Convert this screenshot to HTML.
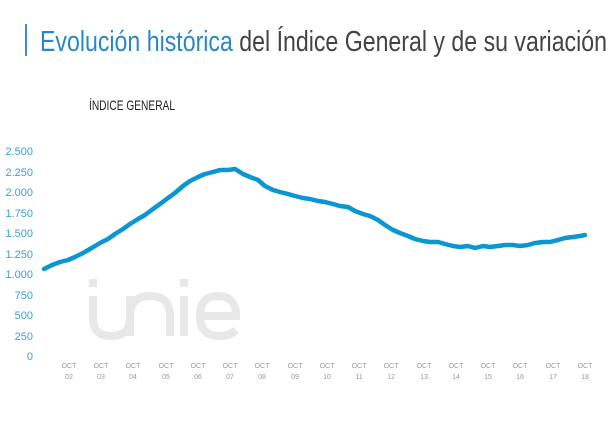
<!DOCTYPE html>
<html><head><meta charset="utf-8"><style>
html,body{margin:0;padding:0;background:#fff;width:611px;height:431px;overflow:hidden}
svg{display:block}
</style></head><body>
<svg width="611" height="431" xmlns="http://www.w3.org/2000/svg" font-family="Liberation Sans, sans-serif">
<rect x="25" y="24" width="2" height="32" fill="#3a8fd0"/>
<text x="40" y="51" font-size="29" textLength="567" lengthAdjust="spacingAndGlyphs"><tspan fill="#2a87c8">Evolución histórica</tspan><tspan fill="#444"> del Índice General y de su variación</tspan></text>
<text x="89" y="110" font-size="14" fill="#222" textLength="86" lengthAdjust="spacingAndGlyphs">ÍNDICE GENERAL</text>
<g fill="none" stroke="#e8e8e8" stroke-width="8" stroke-linecap="butt">
<line x1="93" y1="279" x2="93" y2="287"/>
<path d="M93,296 V318 Q93,336 111,336 Q130,336 130,318 V296 M130,336 V316 Q130,296 150,296 Q170,296 170,316 V336"/>
<line x1="184" y1="279" x2="184" y2="287"/>
<line x1="184" y1="296" x2="184" y2="336"/>
<path d="M200,316 H236 Q236,296 218,296 Q200,296 200,316 Q200,336 220,336 Q230,336 236,330"/>
</g>
<g font-size="11" fill="#3aa0d8" text-anchor="end">
<text x="33" y="155">2.500</text><text x="33" y="176">2.250</text><text x="33" y="196">2.000</text><text x="33" y="217">1.750</text><text x="33" y="237">1.500</text><text x="33" y="258">1.250</text><text x="33" y="278">1.000</text><text x="33" y="299">750</text><text x="33" y="319">500</text><text x="33" y="340">250</text><text x="33" y="360">0</text>
</g>
<g font-size="7" fill="#999" text-anchor="middle">
<text x="69" y="368">OCT</text><text x="69" y="379">02</text>
<text x="101" y="368">OCT</text><text x="101" y="379">03</text>
<text x="133" y="368">OCT</text><text x="133" y="379">04</text>
<text x="166" y="368">OCT</text><text x="166" y="379">05</text>
<text x="198" y="368">OCT</text><text x="198" y="379">06</text>
<text x="230" y="368">OCT</text><text x="230" y="379">07</text>
<text x="262" y="368">OCT</text><text x="262" y="379">08</text>
<text x="295" y="368">OCT</text><text x="295" y="379">09</text>
<text x="327" y="368">OCT</text><text x="327" y="379">10</text>
<text x="359" y="368">OCT</text><text x="359" y="379">11</text>
<text x="391" y="368">OCT</text><text x="391" y="379">12</text>
<text x="424" y="368">OCT</text><text x="424" y="379">13</text>
<text x="456" y="368">OCT</text><text x="456" y="379">14</text>
<text x="488" y="368">OCT</text><text x="488" y="379">15</text>
<text x="520" y="368">OCT</text><text x="520" y="379">16</text>
<text x="553" y="368">OCT</text><text x="553" y="379">17</text>
<text x="585" y="368">OCT</text><text x="585" y="379">18</text>
</g>
<polyline fill="none" stroke="#0a96d0" stroke-width="4.5" stroke-linejoin="round" stroke-linecap="round"
points="44,269 52,265 60,262 68,260 75,257 83,253 90,249 100,243 108,239 115,234 123,229 130,224 138,219 145,215 153,209 160,204 168,198 175,193 183,186 190,181 198,177 205,174 213,172 220,170 228,170 235,169 243,174 250,177 258,180 265,186 273,190 280,192 288,194 295,196 303,198 310,199 318,201 325,202 333,204 340,206 348,207 355,211 363,214 370,216 378,220 385,225 393,230 400,233 408,236 415,239 423,241 430,242 438,242 445,244 453,246 460,247 468,246 475,248 483,246 490,247 498,246 505,245 513,245 520,246 528,245 535,243 543,242 550,242 558,240 565,238 573,237 580,236 585,235"/>
</svg>
</body></html>
